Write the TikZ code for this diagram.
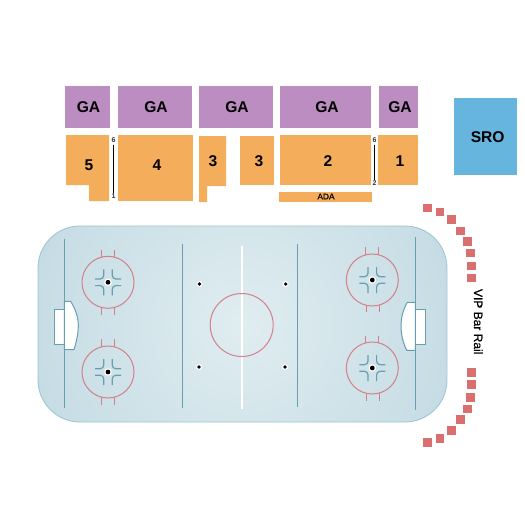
\documentclass[tikz,border=0pt]{standalone}
\usepackage{fontspec}
\setmainfont{Liberation Sans}
\newfontfamily\fakec[FakeBold=0.7]{Liberation Sans}
\definecolor{gacol}{HTML}{BC8DC0}
\definecolor{seatcol}{HTML}{F4AE5B}
\definecolor{srocol}{HTML}{66B5DE}
\definecolor{railcol}{HTML}{D96F6F}
\definecolor{bluel}{HTML}{659FB0}
\definecolor{redl}{HTML}{D48088}
\definecolor{iceedge}{HTML}{B8D3DD}
\definecolor{icemid}{HTML}{E0EDF1}
\definecolor{iceline}{HTML}{9CC3D0}
\pgfdeclareradialshading{icegrad}{\pgfpoint{0bp}{0bp}}{color(0bp)=(icemid); color(40bp)=(iceedge); color(100bp)=(iceedge)}
\tikzset{
  x=1pt,y=-1pt,
  big/.style={font=\fontsize{15.6}{17}\selectfont\bfseries,text=black,inner sep=0pt},
  tiny6/.style={font=\fontsize{7}{8}\selectfont\bfseries,text=black!80,inner sep=0pt},
  rowline/.style={black,line width=1pt},
  railsq/.style={fill=railcol,minimum size=8.6pt,inner sep=0pt,draw=none},
  blueline/.style={bluel,line width=1.5pt},
  redline/.style={redl,line width=1pt},
  hash/.style={bluel,line width=1.2pt,rounded corners=3.5pt},
  goalshape/.style={fill=white,draw=bluel,line width=1pt},
}
\newcommand{\facecircle}[2]{%
  \begin{scope}[shift={(#1,#2)}]
    \draw[redline] (0,0) circle[radius=26pt];
    \foreach \sx in {1,-1}\foreach \sy in {1,-1}
      \draw[hash] (\sx*4.3,\sy*13) -- (\sx*4.3,\sy*3.3) -- (\sx*13,\sy*3.3);
    \fill[white] (0,0) circle[radius=3.8pt];
    \fill[black] (0,0) circle[radius=2.4pt];
  \end{scope}}
\newcommand{\icedot}[2]{%
  \fill[white] (#1,#2) circle[radius=3pt];
  \fill[black] (#1,#2) circle[radius=1.8pt];}
\begin{document}
\begin{tikzpicture}
\useasboundingbox (0,0) rectangle (525,525);
% upper sections
\foreach \a/\b in {65/110,118/192,199/273,280/371,379/418}
  \fill[gacol] (\a,86) rectangle (\b,128);
\fill[srocol] (454,98) rectangle (517,175);
\fill[seatcol] (66,135) -- (109,135) -- (109,201) -- (89,201) -- (89,185) -- (66,185) -- cycle;
\fill[seatcol] (118,135) rectangle (193,201);
\fill[seatcol] (199,136) -- (226,136) -- (226,186) -- (207,186) -- (207,202) -- (199,202) -- cycle;
\fill[seatcol] (240,136) rectangle (274,185);
\fill[seatcol] (280,135) rectangle (371,185);
\fill[seatcol] (378,135) rectangle (418,185);
\fill[seatcol] (279,192) rectangle (372,202);
\node[big] (ga1) at (88.5,107) {GA};
\node[big] (ga2) at (156,107) {GA};
\node[big] (ga3) at (237,107) {GA};
\node[big] (ga4) at (327,107) {GA};
\node[big] (ga5) at (400,107) {GA};
\node[big] (sro) at (487.7,137.5) {SRO};
\node[big] (s5) at (89,165) {5};
\node[big] (s4) at (157,165) {4};
\node[big] (s3a) at (213,161.5) {3};
\node[big] (s3b) at (259,161.5) {3};
\node[big] (s2) at (328,161.5) {2};
\node[big] (s1) at (400,161.5) {1};
\node[font=\fontsize{8.3}{9}\selectfont\fakec,text=black,inner sep=0pt] (ada) at (326,196.5) {ADA};
\node[tiny6] (r6a) at (113.5,140) {6};
\node[tiny6] (r1a) at (113.5,196) {1};
\node[tiny6] (r6b) at (374.5,140) {6};
\node[tiny6] (r2b) at (374.5,183) {2};
\draw[rowline] (r6a.south) ++(0,2) -- (r1a.north);
\draw[rowline] (r6b.south) ++(0,2) -- (r2b.north);
% rink
\begin{scope}
  \clip[rounded corners=42pt] (38,226) rectangle (447,422);
  \shade[shading=icegrad] (37.5,120.5) rectangle (446.5,529.5);
\end{scope}
\draw[rounded corners=42pt,draw=iceline,line width=0.8pt] (38,226) rectangle (447,422);
\draw[blueline] (64.3,239) -- (64.3,408);
\draw[blueline] (182.7,244) -- (182.7,408);
\draw[blueline] (297.7,244) -- (297.7,407);
\draw[blueline] (415.3,237) -- (415.3,410);
\draw[white,line width=1.6pt] (241.7,246) -- (241.7,409);
\draw[redline] (241.7,325) circle[radius=31.5pt];
\icedot{199.5}{284}\icedot{199}{367}\icedot{285.7}{284}\icedot{285}{367}
% hash marks
\foreach \x/\ya/\yb in {101.3/250/257.5,114.3/250/257.5,101.3/308/315,114.3/308/315,
  101.3/339/347,114.3/339/347,101.3/397/405,114.3/397/405,
  365.7/247/255,378.3/247/255,366.3/305/312,379.5/305/312,
  365.7/336/343,378.3/336/343,366.3/393/401,379.5/393/401}
  \draw[redline] (\x,\ya) -- (\x,\yb);
\facecircle{108}{282.3}
\facecircle{108}{372}
\facecircle{372.3}{280}
\facecircle{372.3}{368}
% goals
\draw[goalshape] (54.3,309.3) rectangle (64.3,344.3);
\draw[goalshape] (64.3,301.3) -- (70.7,301.3) .. controls (76,310) and (78.3,318) .. (78.3,325.5) .. controls (78.3,333) and (76.5,342) .. (74,349.5) -- (64.3,349.5) -- cycle;
\draw[goalshape] (415.3,309.3) rectangle (425.7,344.3);
\draw[goalshape] (415.3,302.3) -- (407.3,302.3) .. controls (403,310) and (401,318) .. (401,326) .. controls (401,334) and (403,343) .. (406.7,350.3) -- (415.3,350.3) -- cycle;
% VIP bar rail
\foreach \n/\x/\y in {a/427.3/208,b/440/212,c/451.3/219.3,d/460.3/231,e/467.3/241.3,f/470.3/253,g/471.3/266,h/471.3/278,
  i/471.3/372.3,j/471.3/384.3,k/470.3/397.3,l/467.3/409,m/460.3/419.3,o/451.3/430.7,p/440/438.3,q/427.3/442.3}
  \node[railsq] (rail\n) at (\x,\y) {};
\node[rotate=-90,font=\fontsize{12}{13}\selectfont\fakec,text=black,inner sep=0pt] (vip) at (478.3,321.7) {VIP Bar Rail};
\end{tikzpicture}
\end{document}
